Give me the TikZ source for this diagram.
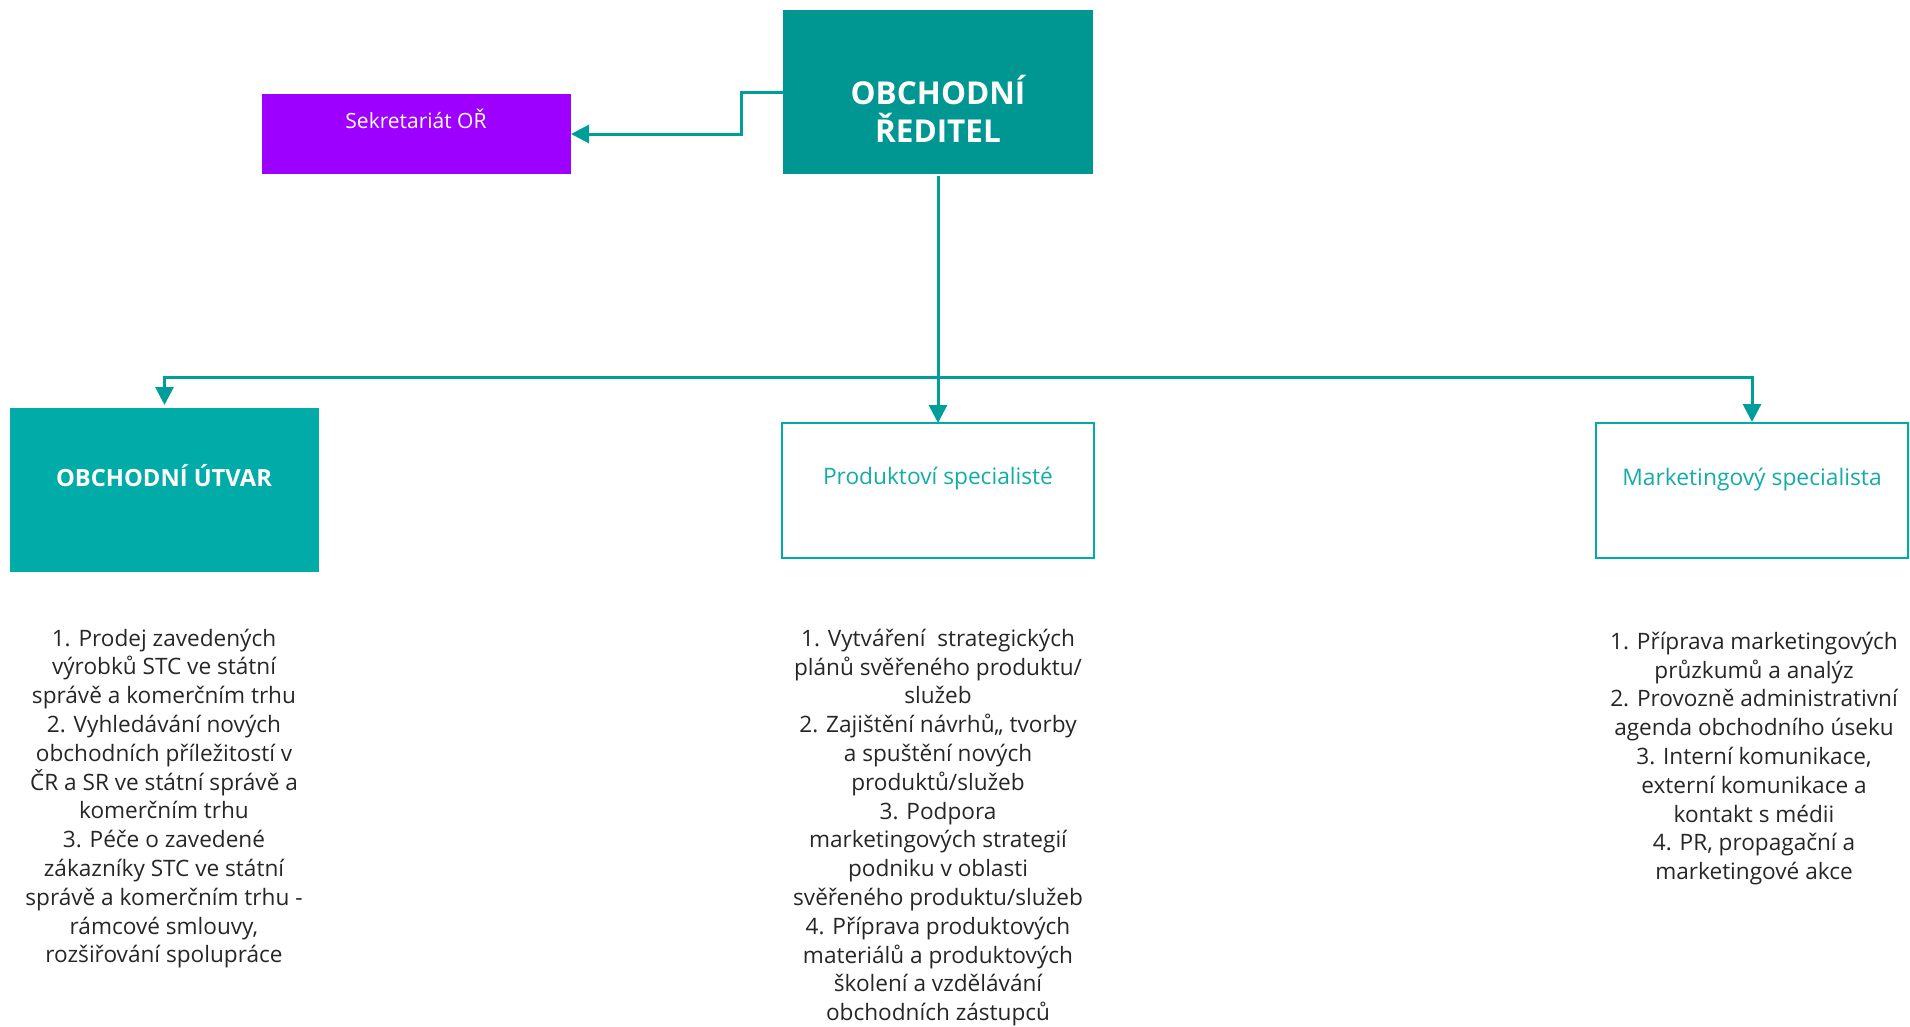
\documentclass[tikz,border=0pt]{standalone}
\usepackage{fontspec}
\setmainfont{Open Sans}
\usetikzlibrary{arrows.meta}
\definecolor{tealdark}{HTML}{009692}
\definecolor{teallight}{HTML}{00ABA8}
\definecolor{tealline}{HTML}{009E9A}
\definecolor{tealtext}{HTML}{13ACA8}
\definecolor{purp}{HTML}{9E00FF}
\definecolor{txtgray}{HTML}{262626}
\begin{document}
\begin{tikzpicture}[x=1pt,y=-1pt,
  box/.style={rectangle, inner sep=0pt, outer sep=0pt},
  conn/.style={draw=tealline, line width=3pt, -{Triangle[length=18pt,width=18pt]}},
  listtext/.style={align=center, text=txtgray, font=\fontsize{22.6}{28.8}\selectfont, inner sep=0pt},
  boxtext/.style={align=center, inner sep=0pt}
]
\useasboundingbox (0,0) rectangle (1910,1026);
% boxes
\node[box, fill=tealdark, minimum width=310pt, minimum height=164pt] (red) at (938,92) {};
\node[box, fill=purp, minimum width=309pt, minimum height=80pt] (sek) at (416.5,134) {};
\node[box, fill=teallight, minimum width=309pt, minimum height=164pt] (utvar) at (164.5,490) {};
\node[box, draw=teallight, line width=2pt, fill=white, minimum width=312pt, minimum height=135pt] (prod) at (938,490.5) {};
\node[box, draw=teallight, line width=2pt, fill=white, minimum width=312pt, minimum height=135pt] (mark) at (1752,490.5) {};
% box texts
\node[boxtext, text=white, font=\fontsize{31.5}{38}\selectfont\bfseries] (redtxt) at (938,109) {OBCHODNÍ\\ŘEDITEL};
\node[boxtext, text=white, font=\fontsize{21}{26}\selectfont] (sektxt) at (416,119) {Sekretariát OŘ};
\node[boxtext, text=white, font=\fontsize{23.7}{28}\selectfont\bfseries] (utvartxt) at (164,476) {OBCHODNÍ ÚTVAR};
\node[boxtext, text=tealtext, font=\fontsize{22.7}{28}\selectfont] (prodtxt) at (938,479) {Produktoví specialisté};
\node[boxtext, text=tealtext, font=\fontsize{22.8}{28}\selectfont] (marktxt) at (1752,479) {Marketingový specialista};
% connectors
\coordinate (hub) at (938,377);
\draw[conn] (red.west) -- ++(-42,0) |- (sek.east);
\draw[conn] ([yshift=-2pt]red.south) -- (prod.north);
\draw[conn] (hub) -| ([yshift=3pt]utvar.north);
\draw[conn] (hub) -| ([yshift=1pt]mark.north);
% lists
\node[listtext] (list1) at (164,798.5) {1. Prodej zavedených\\výrobků STC ve státní\\správě a komerčním trhu\\2. Vyhledávání nových\\obchodních příležitostí v\\ČR a SR ve státní správě a\\komerčním trhu\\3. Péče o zavedené\\zákazníky STC ve státní\\správě a komerčním trhu -\\rámcové smlouvy,\\rozšiřování spolupráce};
\node[listtext] (list2) at (938,827.5) {1. Vytváření\ \ strategických\\plánů svěřeného produktu/\\služeb\\2. Zajištění návrhů,, tvorby\\a spuštění nových\\produktů/služeb\\3. Podpora\\marketingových strategií\\podniku v oblasti\\svěřeného produktu/služeb\\4. Příprava produktových\\materiálů a produktových\\školení a vzdělávání\\obchodních zástupců};
\node[listtext] (list3) at (1754,758.5) {1. Příprava marketingových\\průzkumů a analýz\\2. Provozně administrativní\\agenda obchodního úseku\\3. Interní komunikace,\\externí komunikace a\\kontakt s médii\\4. PR, propagační a\\marketingové akce};
\end{tikzpicture}
\end{document}
